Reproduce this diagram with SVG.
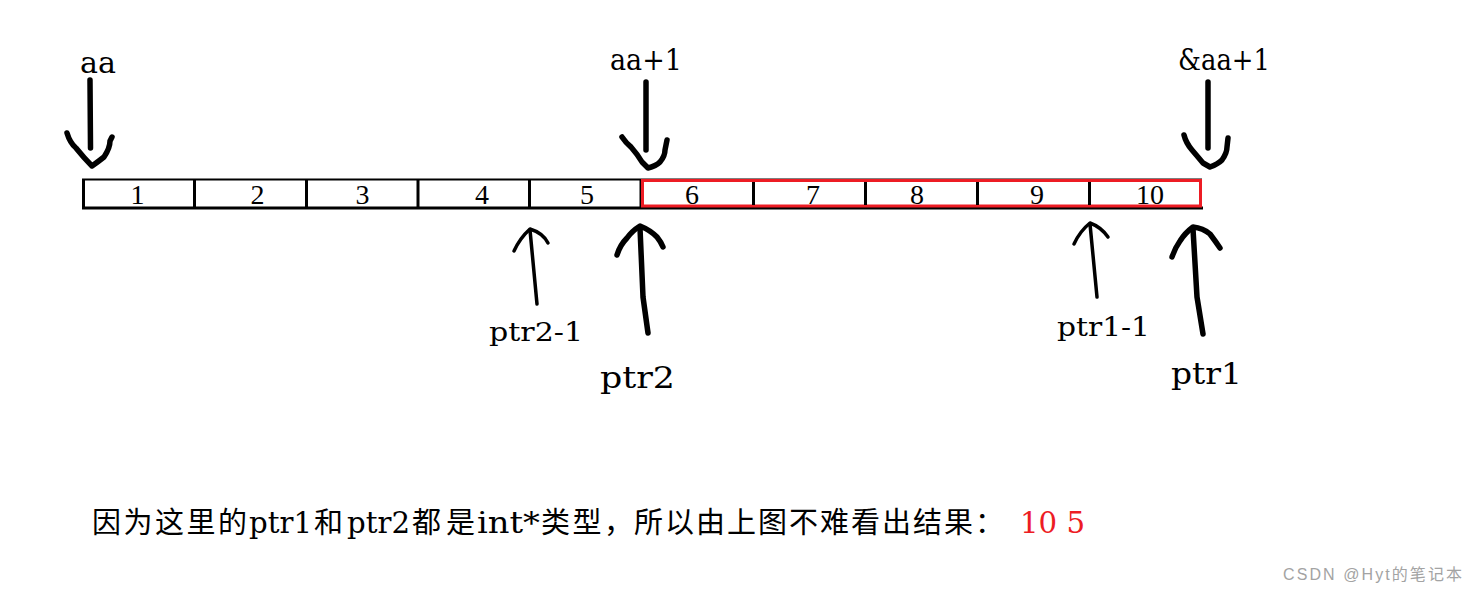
<svg xmlns="http://www.w3.org/2000/svg" width="1477" height="593" viewBox="0 0 1477 593">
<style>
.lbl{font-family:"DejaVu Serif","Noto Sans CJK SC",serif;fill:#000}
.num{font-family:"Liberation Serif",serif;font-size:28px;fill:#000;text-anchor:middle}
.pen{fill:none;stroke:#000;stroke-linecap:round;stroke-linejoin:round}
.thick{stroke-width:5.5}
.thin{stroke-width:3.5}
.cell{stroke:#000;stroke-width:3}
.wm{font-family:"Liberation Sans","Noto Sans CJK SC",sans-serif;font-size:16px;fill:#a3a3a3}
</style>
<rect width="1477" height="593" fill="#fff"/>
<g id="array">
  <line x1="82" y1="179.5" x2="1202" y2="179.5" stroke="#000" stroke-width="2"/>
  <line x1="82" y1="208" x2="1203" y2="208" stroke="#000" stroke-width="3.2"/>
  <line class="cell" x1="83.5" y1="179" x2="83.5" y2="209"/>
  <line class="cell" x1="194.5" y1="179" x2="194.5" y2="209"/>
  <line class="cell" x1="306.5" y1="179" x2="306.5" y2="209"/>
  <line class="cell" x1="418" y1="179" x2="418" y2="209"/>
  <line class="cell" x1="529.5" y1="179" x2="529.5" y2="209"/>
  <line class="cell" x1="641" y1="179" x2="641" y2="209"/>
  <rect x="642.5" y="180.5" width="558" height="25.5" fill="#fff" stroke="#ed1c24" stroke-width="3"/>
  <line class="cell" x1="753.5" y1="182" x2="753.5" y2="205"/>
  <line class="cell" x1="865.5" y1="182" x2="865.5" y2="205"/>
  <line class="cell" x1="977.5" y1="182" x2="977.5" y2="205"/>
  <line class="cell" x1="1089.5" y1="182" x2="1089.5" y2="205"/>
  <text class="num" x="137.5" y="204">1</text>
  <text class="num" x="257.5" y="204">2</text>
  <text class="num" x="362.5" y="204">3</text>
  <text class="num" x="482" y="204">4</text>
  <text class="num" x="587" y="204">5</text>
  <text class="num" x="692" y="204">6</text>
  <text class="num" x="813" y="204">7</text>
  <text class="num" x="917" y="204">8</text>
  <text class="num" x="1037" y="204">9</text>
  <text class="num" x="1150" y="204">10</text>
</g>
<g id="label-aa">
  <text class="lbl" x="80" y="73" font-size="29" textLength="36" lengthAdjust="spacingAndGlyphs">aa</text>
</g>
<g id="label-aa1">
  <text class="lbl" x="610" y="70" font-size="29" textLength="72" lengthAdjust="spacingAndGlyphs">aa+1</text>
</g>
<g id="label-addr-aa1">
  <text class="lbl" x="1178" y="70" font-size="29" textLength="92" lengthAdjust="spacingAndGlyphs">&amp;aa+1</text>
</g>
<g id="label-ptr2-1">
  <text class="lbl" x="489" y="341" font-size="26" textLength="94" lengthAdjust="spacingAndGlyphs">ptr2-1</text>
</g>
<g id="label-ptr2">
  <text class="lbl" x="600" y="388" font-size="29" textLength="75" lengthAdjust="spacingAndGlyphs">ptr2</text>
</g>
<g id="label-ptr1-1">
  <text class="lbl" x="1057" y="336" font-size="26" textLength="93" lengthAdjust="spacingAndGlyphs">ptr1-1</text>
</g>
<g id="label-ptr1">
  <text class="lbl" x="1171" y="384" font-size="29" textLength="71" lengthAdjust="spacingAndGlyphs">ptr1</text>
</g>
<g id="connectors">
  <path class="pen thick" d="M90,80 L90.5,148"/>
  <path class="pen thick" d="M67,133 Q70,143 76,148 Q84,158 92,166 Q99,161 104,157 Q110,148 110,141 L112,137"/>
  <path class="pen thick" d="M646,82 L646,150"/>
  <path class="pen thick" d="M622,137 Q626,143 631,147 Q638,155 642,162 L648,168 Q656,166 660,162 Q665,156 665,150 L667,140"/>
  <path class="pen thick" d="M1208,82 L1208,148"/>
  <path class="pen thick" d="M1184,135 Q1186,143 1192,150 Q1198,157 1203,163 L1210,167 Q1218,164 1222,160 Q1227,153 1227,147 L1228,138"/>
  <path class="pen thin" d="M537,304 L530,230"/>
  <path class="pen thin" d="M514,251 Q520,238 530,229 Q543,233 548,243"/>
  <path class="pen thick" d="M648,333 L643,297 L640,228"/>
  <path class="pen thick" d="M617,255 Q620,245 627,238 Q632,231 640,226 Q650,230 657,237 Q661,242 663,247"/>
  <path class="pen thin" d="M1097,297 L1090,224"/>
  <path class="pen thin" d="M1074,244 Q1080,231 1090,223 Q1101,227 1108,237"/>
  <path class="pen thick" d="M1203,334 L1197,297 L1193,229"/>
  <path class="pen thick" d="M1172,257 Q1175,248 1180,241 Q1185,233 1193,227 Q1203,228 1210,234 Q1216,242 1220,248"/>
</g>
<g id="caption">
  <text class="lbl" y="533" font-size="29">
    <tspan x="92" textLength="155" lengthAdjust="spacing">因为这里的</tspan>
    <tspan x="249" textLength="63" lengthAdjust="spacingAndGlyphs">ptr1</tspan>
    <tspan x="314" textLength="31" lengthAdjust="spacing">和</tspan>
    <tspan x="347" textLength="63" lengthAdjust="spacingAndGlyphs">ptr2</tspan>
    <tspan x="412" textLength="63" lengthAdjust="spacing">都是</tspan>
    <tspan x="477" textLength="63" lengthAdjust="spacingAndGlyphs">int*</tspan>
    <tspan x="541" textLength="92" lengthAdjust="spacing">类型，</tspan>
    <tspan x="634" textLength="370" lengthAdjust="spacing">所以由上图不难看出结果：</tspan>
    <tspan x="1020" fill="#ed1c24" textLength="65" lengthAdjust="spacingAndGlyphs">10 5</tspan>
  </text>
</g>
<g id="watermark">
  <text class="wm" x="1283" y="580" textLength="179" lengthAdjust="spacing">CSDN @Hyt的笔记本</text>
</g>
</svg>
